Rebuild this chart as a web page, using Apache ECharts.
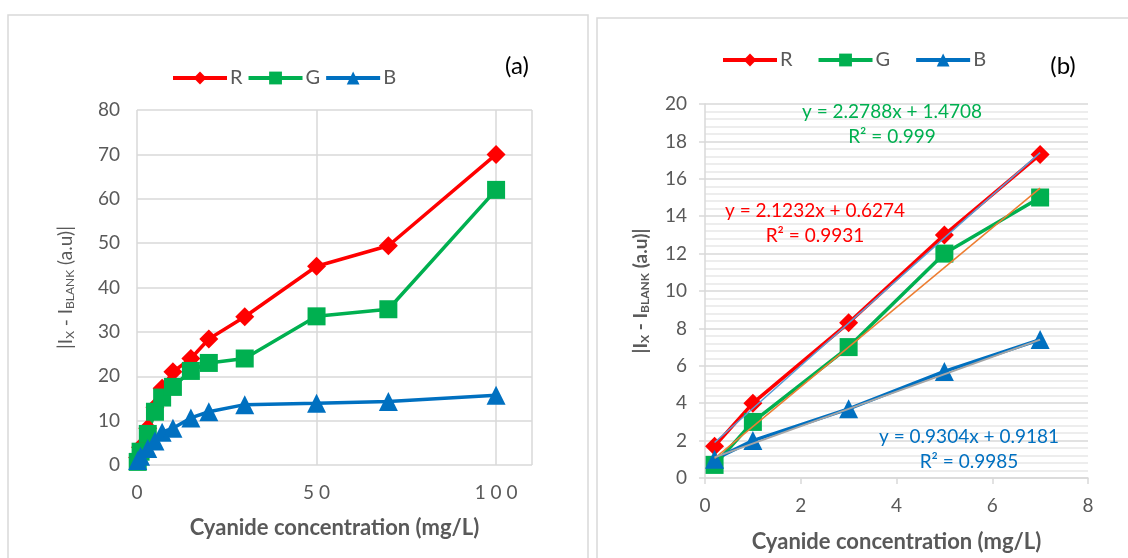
<!DOCTYPE html>
<html>
<head>
<meta charset="utf-8">
<script src="https://cdn.jsdelivr.net/npm/echarts@6/dist/echarts.min.js"></script>
<style>
  html, body { margin: 0; padding: 0; background: #fff; }
  #main { width: 1128px; height: 558px; }
</style>
</head>
<body>
<div id="main"></div>
<script>
// panel (a): full concentration range
var concA = [0.2, 1, 3, 5, 7, 10, 15, 20, 30, 50, 70, 100];
var redA = [1.7, 4, 8.3, 13, 17.3, 21, 24, 28.4, 33.4, 44.8, 49.4, 70];
var greenA = [0.7, 3, 7, 12, 15.2, 17.6, 21.2, 23, 24, 33.5, 35.1, 62];
var blueA = [1, 2, 3.7, 5.4, 7.4, 8.3, 10.6, 12, 13.6, 13.9, 14.3, 15.7];

// panel (b): linear range
var concB = [0.2, 1, 3, 5, 7];
var redB = [1.7, 4, 8.3, 13, 17.3];
var greenB = [0.7, 3, 7, 12, 15];
var blueB = [1, 2, 3.7, 5.7, 7.4];

// trendline end points
var fitX = [0.2, 7];
var fitR = [1.9, 17.4];
var fitG = [1.05, 15.5];
var fitB = [1.1, 7.4];

var eqGreen = ['y = 2.2788x + 1.4708', 'R² = 0.999'];
var eqRed = ['y = 2.1232x + 0.6274', 'R² = 0.9931'];
var eqBlue = ['y = 0.9304x + 0.9181', 'R² = 0.9985'];

var RED = '#FF0000', GREEN = '#00B050', BLUE = '#0070C0';
var FONT = 'Lato, "Liberation Sans", sans-serif';
var GREY = '#595959';

function pairs(xs, ys) {
  var out = [];
  for (var i = 0; i < xs.length; i++) out.push([xs[i], ys[i]]);
  return out;
}

function dataSeries(name, xs, ys, color, symbol, size, idx) {
  return {
    name: name,
    type: 'line',
    xAxisIndex: idx,
    yAxisIndex: idx,
    data: pairs(xs, ys),
    symbol: symbol,
    symbolSize: size,
    itemStyle: { color: color },
    lineStyle: { color: color, width: 3.5 },
    animation: false
  };
}

function fitSeries(name, ys, color, width) {
  return {
    name: name,
    type: 'line',
    xAxisIndex: 1,
    yAxisIndex: 1,
    data: pairs(fitX, ys),
    symbol: 'none',
    lineStyle: { color: color, width: width },
    z: 5,
    animation: false
  };
}

var yName = '|I{sub|X} - I{sub|BLANK} (a.u)|';

function eqText(lines, color, cx, cy) {
  return [0, 1].map(function (k) {
    return {
      type: 'text',
      z: 100,
      x: cx, y: cy + k * 25,
      style: {
        text: lines[k], fill: color, font: '19px ' + FONT,
        textAlign: 'center', textVerticalAlign: 'middle'
      }
    };
  });
}

function legendAt(left, top, gap) {
  return {
    data: ['R', 'G', 'B'], left: left, top: top,
    itemWidth: 54, itemHeight: 16, itemGap: gap,
    lineStyle: { width: 4 },
    textStyle: { fontSize: 20, color: GREY, fontFamily: FONT, padding: [0, 0, 0, -2] }
  };
}

var option = {
  backgroundColor: '#fff',
  textStyle: { fontFamily: FONT },
  grid: [
    { left: 137, right: 596, top: 110, bottom: 93 },
    { left: 705, right: 40, top: 104, bottom: 77 }
  ],
  legend: [legendAt(166, 63, 4), legendAt(716, 45, 24)],
  xAxis: [
    {
      type: 'value', gridIndex: 0, min: 0, max: 110, interval: 50,
      axisLine: { show: false },
      axisTick: { show: false },
      splitLine: { show: true, lineStyle: { color: '#d9d9d9', width: 1.5 } },
      axisLabel: {
        fontSize: 19, color: GREY, margin: 18,
        formatter: function (v) { return v > 100 ? '' : String(v).split('').join(' '); }
      },
      name: 'Cyanide concentration (mg/L)', nameLocation: 'middle', nameGap: 52,
      nameTextStyle: { fontSize: 22, fontWeight: 'bold', color: GREY }
    },
    {
      type: 'value', gridIndex: 1, min: 0, max: 8, interval: 2,
      axisLine: { show: true, lineStyle: { color: '#d9d9d9', width: 1.5 } },
      axisTick: { show: true, length: 6, lineStyle: { color: '#d9d9d9', width: 1.5 } },
      splitLine: { show: false },
      axisLabel: { fontSize: 19, color: GREY, margin: 18 },
      name: 'Cyanide concentration (mg/L)', nameLocation: 'middle', nameGap: 53,
      nameTextStyle: { fontSize: 22, fontWeight: 'bold', color: GREY }
    }
  ],
  yAxis: [
    {
      type: 'value', gridIndex: 0, min: 0, max: 80, interval: 10,
      axisLine: { show: false },
      axisTick: { show: false },
      splitLine: { lineStyle: { color: '#d9d9d9', width: 1.5 } },
      axisLabel: { fontSize: 19, color: GREY, margin: 17 },
      name: yName, nameLocation: 'middle', nameGap: 61, nameRotate: 90,
      nameTextStyle: {
        fontSize: 19, color: GREY,
        rich: { sub: { fontSize: 12, color: GREY, verticalAlign: 'bottom', padding: [9, 0, 0, 0] } }
      }
    },
    {
      type: 'value', gridIndex: 1, min: 0, max: 20, interval: 2,
      axisLine: { show: true, lineStyle: { color: '#d9d9d9', width: 1.5 } },
      axisTick: { show: true, length: 6, lineStyle: { color: '#d9d9d9', width: 1.5 } },
      splitLine: { lineStyle: { color: '#d9d9d9', width: 1.5 } },
      minorTick: { show: false, splitNumber: 5 },
      minorSplitLine: { show: true, lineStyle: { color: '#e8e8e8', width: 1.5 } },
      axisLabel: { fontSize: 19, color: GREY, margin: 18 },
      name: yName, nameLocation: 'middle', nameGap: 54, nameRotate: 90,
      nameTextStyle: {
        fontSize: 19, fontWeight: 'bold', color: GREY,
        rich: { sub: { fontSize: 12, fontWeight: 'bold', color: GREY, verticalAlign: 'bottom', padding: [9, 0, 0, 0] } }
      }
    }
  ],
  series: [
    dataSeries('R', concA, redA, RED, 'diamond', 19, 0),
    dataSeries('G', concA, greenA, GREEN, 'rect', 18, 0),
    dataSeries('B', concA, blueA, BLUE, 'triangle', 19, 0),
    dataSeries('R', concB, redB, RED, 'diamond', 19, 1),
    dataSeries('G', concB, greenB, GREEN, 'rect', 18, 1),
    dataSeries('B', concB, blueB, BLUE, 'triangle', 19, 1),
    fitSeries('fit R', fitR, '#5B9BD5', 1.5),
    fitSeries('fit G', fitG, '#ED7D31', 1.5),
    fitSeries('fit B', fitB, '#A5A5A5', 2)
  ],
  graphic: [
    { type: 'rect', shape: { x: 8, y: 15, width: 580, height: 560 }, style: { fill: 'none', stroke: '#d9d9d9', lineWidth: 1.5 }, z: -1 },
    { type: 'rect', shape: { x: 597, y: 18, width: 560, height: 560 }, style: { fill: 'none', stroke: '#d9d9d9', lineWidth: 1.5 }, z: -1 },
    { type: 'text', x: 517, y: 66, style: { text: '(a)', fill: '#000', font: '24px ' + FONT, textAlign: 'center', textVerticalAlign: 'middle' } },
    { type: 'text', x: 1063, y: 66, style: { text: '(b)', fill: '#000', font: '24px ' + FONT, textAlign: 'center', textVerticalAlign: 'middle' } }
  ].concat(eqText(eqGreen, GREEN, 892, 112))
   .concat(eqText(eqRed, RED, 815, 211))
   .concat(eqText(eqBlue, BLUE, 969, 437))
};

var chart = echarts.init(document.getElementById('main'));
chart.setOption(option);
</script>
</body>
</html>
